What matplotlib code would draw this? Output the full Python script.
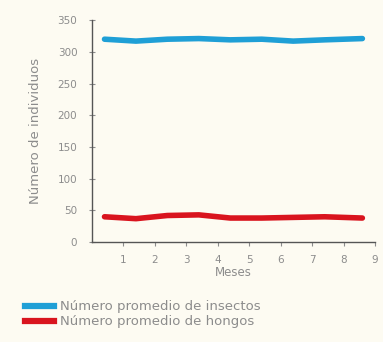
import matplotlib
matplotlib.use("Agg")
import matplotlib.pyplot as plt
from matplotlib.lines import Line2D

meses = [0.4, 1.4, 2.4, 3.4, 4.4, 5.4, 6.4, 7.4, 8.6]
insectos = [320, 317, 320, 321, 319, 320, 317, 319, 321]
hongos = [40, 37, 42, 43, 38, 38, 39, 40, 38]
xticks = [1, 2, 3, 4, 5, 6, 7, 8, 9]
yticks = [0, 50, 100, 150, 200, 250, 300, 350]
etiquetas = ["Número promedio de insectos", "Número promedio de hongos"]

bg = "#fdfbf2"
txt = "#8c8c8c"
azul = "#1f9fd6"
rojo = "#d9141e"

fig = plt.figure(figsize=(3.83, 3.42), dpi=100, facecolor=bg)
ax = fig.add_axes([0.240, 0.292, 0.739, 0.649], facecolor=bg)

ax.plot(meses, insectos, color=azul, lw=4, solid_capstyle="round")
ax.plot(meses, hongos, color=rojo, lw=4, solid_capstyle="round")

ax.set_xlim(0, 9)
ax.set_ylim(0, 350)
ax.set_xticks(xticks)
ax.set_yticks(yticks)
ax.tick_params(axis="both", colors=txt, labelsize=7.5, length=3, width=0.8)
ax.tick_params(axis="y", direction="inout", length=5, pad=8)
ax.tick_params(axis="x", pad=6)
for s in ["top", "right"]:
    ax.spines[s].set_visible(False)
for s in ["left", "bottom"]:
    ax.spines[s].set_color("#555555")
    ax.spines[s].set_linewidth(1.0)

ax.set_xlabel("Meses", color=txt, fontsize=8.5, labelpad=1)
ax.set_ylabel("Número de individuos", color=txt, fontsize=9.5, labelpad=11)

handles = [Line2D([0], [0], color=azul, lw=4.5),
           Line2D([0], [0], color=rojo, lw=4.5)]
fig.legend(handles, etiquetas, loc="lower left", bbox_to_anchor=(0.035, 0.005),
           frameon=False, fontsize=9.5, labelcolor=txt, handlelength=2.2,
           handletextpad=0.4, labelspacing=0.15)

fig.savefig("out.png", dpi=100, facecolor=bg)
